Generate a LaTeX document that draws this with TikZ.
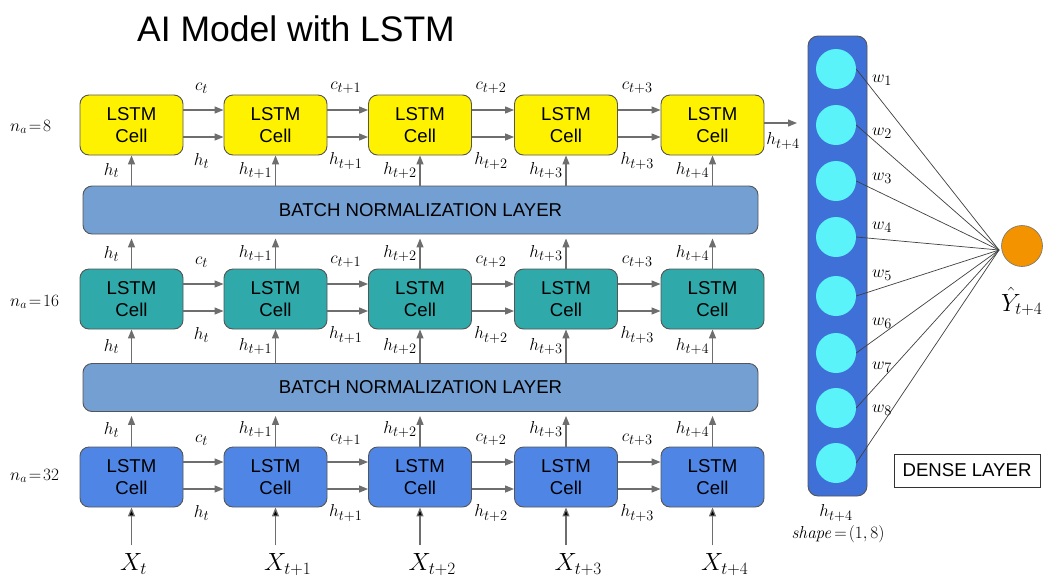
\documentclass[tikz,border=0pt]{standalone}
\usepackage{mathtools}
\usepackage[no-math]{fontspec}
\setmainfont{Liberation Sans}
\usetikzlibrary{arrows.meta,calc}
\definecolor{cyellow}{HTML}{FFF200}
\definecolor{cteal}{HTML}{2FA9A9}
\definecolor{cblue}{HTML}{4F86E6}
\definecolor{bnblue}{HTML}{739FD2}
\definecolor{densebl}{HTML}{3F70D8}
\definecolor{cyanc}{HTML}{5AF3FA}
\definecolor{orangec}{HTML}{F39300}
\definecolor{lgray}{HTML}{6E6E6E}
\definecolor{edgec}{HTML}{555555}
\tikzset{
  cellbox/.style={draw=edgec, line width=0.9pt, rounded corners=9pt, minimum width=103pt, minimum height=60pt, align=center, inner sep=0pt, font=\fontsize{18.6}{22}\selectfont},
  bnbox/.style={draw=edgec, line width=0.9pt, fill=bnblue, rounded corners=9pt, minimum width=675pt, minimum height=48pt, inner sep=0pt, font=\fontsize{18.6}{22}\selectfont},
  flow/.style={draw=lgray, line width=1.2pt, -{Triangle[length=9pt,width=7pt]}},
  inflow/.style={draw=lgray, line width=1.2pt, -{Triangle[length=9pt,width=7pt,fill=black]}},
  lab/.style={inner sep=0pt, font=\fontsize{19}{22}\selectfont},
  nalab/.style={inner sep=0pt, font=\fontsize{18}{22}\selectfont, anchor=west},
  xlab/.style={inner sep=0pt, font=\fontsize{27}{30}\selectfont, anchor=base},
  neuron/.style={circle, fill=cyanc, minimum size=40pt, inner sep=0pt},
  wline/.style={draw=black!75, line width=0.7pt},
}
\begin{document}
\begin{tikzpicture}[x=1pt,y=-1pt]
\useasboundingbox[fill=white] (0,0) rectangle (1043,579);
% title
\node[anchor=base west, inner sep=0pt, font=\fontsize{35.5}{40}\selectfont] (title) at (137,41) {AI Model with LSTM};
% layer size labels
\node[nalab] (na1) at (10,127) {$n_a\!=\!8$};
\node[nalab] (na2) at (10,302) {$n_a\!=\!16$};
\node[nalab] (na3) at (10,476) {$n_a\!=\!32$};
% batch norm layers
\node[bnbox] (bn1) at (420.5,210) {BATCH NORMALIZATION LAYER};
\node[bnbox] (bn2) at (420.5,387.5) {BATCH NORMALIZATION LAYER};
% cells
\foreach \i/\x in {1/131.5,2/275.5,3/420,4/566,5/712.5}{
  \node[cellbox, fill=cyellow] (a\i) at (\x,125) {LSTM\\Cell};
  \node[cellbox, fill=cteal] (b\i) at (\x,299) {LSTM\\Cell};
  \node[cellbox, fill=cblue] (d\i) at (\x,477) {LSTM\\Cell};
}
% subscript names
\def\sub#1{\ifnum#1=1 t\else t+\the\numexpr#1-1\relax\fi}
% horizontal connectors + gap labels
\foreach \r in {a,b,d}{
  \foreach \i in {1,...,4}{
    \pgfmathtruncatemacro{\j}{\i+1}
    \draw[flow] ([yshift=15pt]\r\i.east) -- ([yshift=15pt]\r\j.west);
    \draw[flow] ([yshift=-12pt]\r\i.east) -- ([yshift=-12pt]\r\j.west);
    \node[lab] (c\r\i) at ($(\r\i.east)!0.5!(\r\j.west)+(-2,-37)$) {$c_{\sub{\i}}$};
    \node[lab] (h\r\i) at ($(\r\i.east)!0.5!(\r\j.west)+(-2,36)$) {$h_{\sub{\i}}$};
  }
}
% vertical connectors and labels
\foreach \i in {1,...,5}{
  \draw[flow] (bn1.north -| a\i) -- (a\i.south);
  \draw[flow] (b\i.north) -- ([yshift=-4pt]bn1.south -| b\i);
  \draw[flow] (bn2.north -| b\i) -- (b\i.south);
  \draw[flow] (d\i.north) -- ([yshift=-4pt]bn2.south -| d\i);
  \node[lab] (ha\i) at ($(a\i.south)+(-20,15)$) {$h_{\sub{\i}}$};
  \node[lab] (hbt\i) at ($(b\i.north)+(-20,-15)$) {$h_{\sub{\i}}$};
  \node[lab] (hbb\i) at ($(b\i.south)+(-20,17)$) {$h_{\sub{\i}}$};
  \node[lab] (hdt\i) at ($(d\i.north)+(-20,-17)$) {$h_{\sub{\i}}$};
  \node[xlab] (x\i) at ($(d\i.south)+(-1,63)$) {$X_{\mathrlap{\sub{\i}}}$};
  \coordinate (xs\i) at ($(d\i.south)+(0,38)$);
  \draw[inflow] (xs\i) -- (d\i.south);
}
% output of top row
\coordinate (hout) at (797,123);
\draw[flow] (a5.east |- hout) -- (hout);
\node[lab] (hlast) at (783,141) {$h_{t+4}$};
% dense layer
\node[draw=edgec, line width=0.9pt, fill=densebl, rounded corners=10pt, minimum width=59pt, minimum height=460pt, inner sep=0pt] (dense) at (837.5,266) {};
\node[circle, draw=black!55, line width=0.6pt, fill=orangec, minimum size=41pt, inner sep=0pt] (out) at (1022,246) {};
\coordinate (conv) at (999,250);
\foreach \k/\yy/\wy in {1/69/80,2/125/133,3/181/178,4/237/227,5/296/275,6/353/323,7/408/367,8/463/410}{
  \node[neuron] (n\k) at (836,\yy) {};
  \draw[wline] (n\k.east) -- (conv);
  \node[lab] (w\k) at (882,\wy) {$w_{\k}$};
}
\node[inner sep=0pt, anchor=base west, font=\fontsize{26}{30}\selectfont] (yhat) at (1001,311) {$\hat{Y}_{t+4}$};
\node[draw=black!80, line width=0.8pt, fill=white, minimum width=146pt, minimum height=33pt, inner sep=0pt, font=\fontsize{18.6}{22}\selectfont] (dlabel) at (967,470.5) {DENSE LAYER};
\node[lab] (hdense) at (836,513) {$h_{t+4}$};
\node[lab] (shape) at (838,534) {$\mathit{shape}\!=\!(1,8)$};
\end{tikzpicture}
\end{document}
